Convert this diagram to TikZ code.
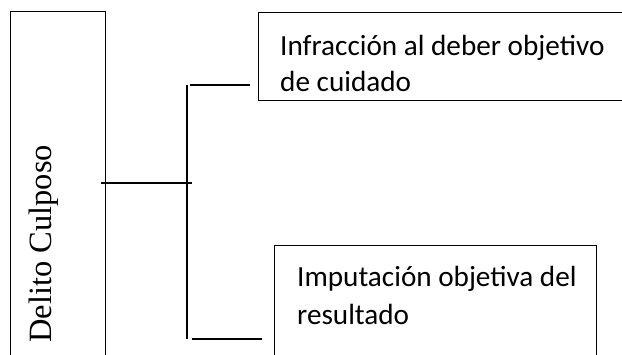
\documentclass[tikz,border=0pt]{standalone}
\usepackage{fontspec}
\setmainfont{Liberation Serif}
\newfontfamily\calib{Carlito}
\usetikzlibrary{calc}
\begin{document}
\begin{tikzpicture}[x=1pt,y=-1pt,
  boxshape/.style={draw=black,line width=1.1pt,rectangle,inner sep=0pt,anchor=north west},
  conn/.style={draw=black,line width=1.1pt},
  serif/.style={font=\fontsize{32.5}{39}\selectfont,inner sep=0pt},
  sans/.style={font=\calib\fontsize{29.2}{36}\selectfont,inner sep=0pt,anchor=base west}]
\clip (0,0) rectangle (622,354);
\fill[white] (0,0) rectangle (622,354);
% boxes
\node[boxshape,minimum width=95pt,minimum height=420pt] (leftbox) at (10,11) {};
\node[boxshape,minimum width=420pt,minimum height=88pt] (topbox) at (258,12) {};
\node[boxshape,minimum width=322pt,minimum height=160pt] (botbox) at (274,245) {};
% texts
\node[serif,rotate=90,anchor=base west] (deltext) at (52,343) {Delito Culposo};
\node[sans] (t1a) at (280,55) {Infracción al deber objetivo};
\node[sans] (t1b) at (280,91) {de cuidado};
\node[sans] (t2a) at (297,286) {Imputación objetiva del};
\node[sans] (t2b) at (297,324) {resultado};
% connectors
\coordinate (trunkTop) at (187,85);
\coordinate (trunkBot) at (187,339);
\coordinate (mid) at (192,183);
\draw[conn] ($(leftbox.east|-mid)+(-5,0)$) -- (mid);
\draw[conn] (trunkTop) -- (trunkBot);
\draw[conn] ([xshift=3pt]trunkTop) -- ([xshift=-8pt]topbox.west |- trunkTop);
\draw[conn] ([xshift=5pt]trunkBot) -- ([xshift=-12pt]botbox.west |- trunkBot);
\end{tikzpicture}
\end{document}
